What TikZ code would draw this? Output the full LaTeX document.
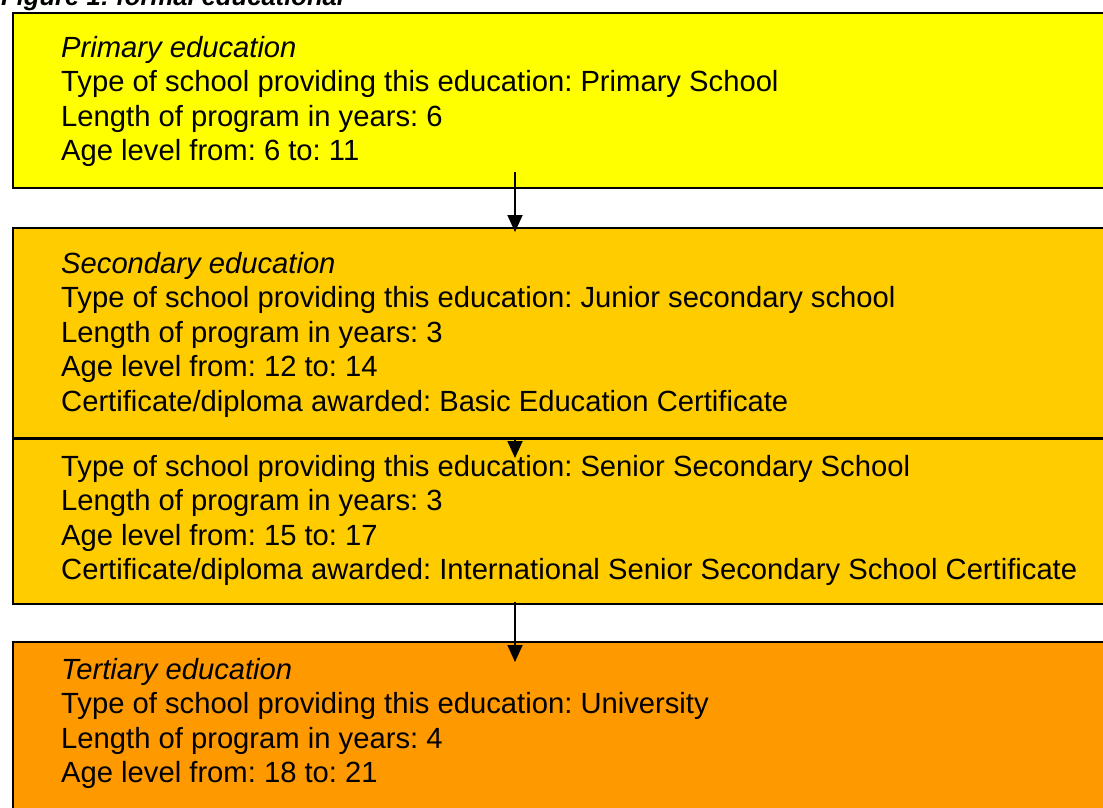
\documentclass[tikz,border=0pt]{standalone}
\usepackage{fontspec}
\setmainfont{Liberation Sans}
\usetikzlibrary{arrows.meta}
\frenchspacing

\definecolor{primcol}{HTML}{FFFF00}
\definecolor{seccol}{HTML}{FFCC00}
\definecolor{tertcol}{HTML}{FF9900}

\begin{document}
\begin{tikzpicture}[x=1pt, y=-1pt,
    box/.style={draw=black, line width=2pt, rectangle, anchor=north west,
      minimum width=1110pt, inner sep=0pt},
    txt/.style={anchor=north west, inner sep=0pt, align=left,
      font=\fontsize{29.2}{34.5}\selectfont},
    flow/.style={line width=1.8pt, -{Triangle[width=15pt, length=17pt]}}]

  \useasboundingbox (0,0) rectangle (1103,807);

  \node[anchor=base west, inner sep=0pt,
    font=\fontsize{25.6}{30}\selectfont\bfseries\itshape] (title) at (1,5)
    {Figure 1: formal educational};

  %% the four levels
  \node[box, fill=primcol, minimum height=175pt] (primary) at (12,12) {};
  \node[box, fill=seccol, minimum height=210pt] (junior) at (12,227) {};
  \node[box, fill=seccol, minimum height=165pt] (senior) at (12,438) {};
  \node[box, fill=tertcol, minimum height=200pt] (tertiary) at (12,641) {};

  \node[txt] (primarytxt) at (61,36) {\textit{Primary education}\\
    Type of school providing this education: Primary School\\
    Length of program in years: 6\\
    Age level from: 6 to: 11};

  \node[txt] (juniortxt) at (61,252) {\textit{Secondary education}\\
    Type of school providing this education: Junior secondary school\\
    Length of program in years: 3\\
    Age level from: 12 to: 14\\
    Certificate/diploma awarded: Basic Education Certificate};

  \node[txt] (seniortxt) at (61,455) {%
    Type of school providing this education: Senior Secondary School\\
    Length of program in years: 3\\
    Age level from: 15 to: 17\\
    Certificate/diploma awarded: International Senior Secondary School Certificate};

  \node[txt] (tertiarytxt) at (61,658) {\textit{Tertiary education}\\
    Type of school providing this education: University\\
    Length of program in years: 4\\
    Age level from: 18 to: 21};

  %% arrows between levels
  \coordinate (a1) at (515,172);
  \coordinate (b1) at (515,232);
  \coordinate (a2) at (515,437);
  \coordinate (b2) at (515,458);
  \coordinate (a3) at (515,602);
  \coordinate (b3) at (515,662);

  \draw[flow] (a1) -- (b1); %% primary -> junior
  \draw[flow] (a2) -- (b2); %% junior -> senior
  \draw[flow] (a3) -- (b3); %% senior -> tertiary
\end{tikzpicture}
\end{document}
